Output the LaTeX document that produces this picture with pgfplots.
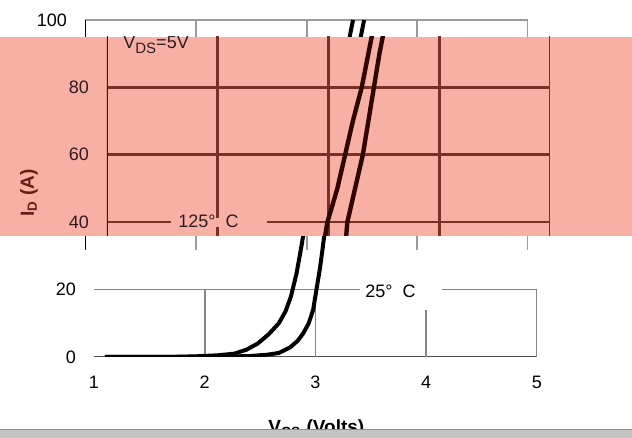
\documentclass[border=0pt]{standalone}
\usepackage{fontspec}
\setmainfont{Liberation Sans}
\usepackage{pgfplots}
\usepackage{pgfplotstable}
\pgfplotsset{compat=1.18}

\definecolor{band}{RGB}{249,176,164}
\definecolor{bandgrid}{RGB}{122,48,38}
\definecolor{bandaxis}{RGB}{70,18,12}
\definecolor{bandcurve}{RGB}{48,6,4}
\definecolor{bandtext}{RGB}{45,28,35}
\definecolor{ylab}{RGB}{105,28,20}
\definecolor{lightgrid}{RGB}{155,155,155}
\definecolor{midgrid}{RGB}{135,135,135}
\definecolor{zeroline}{RGB}{80,80,80}
\definecolor{barfill}{RGB}{196,196,196}
\definecolor{barline}{RGB}{140,140,140}

% I_D vs V_GS, 125 C
\pgfplotstableread{
v i
1.18 0
1.80 0.05
2.00 0.2
2.20 0.5
2.35 1.0
2.46 2.2
2.56 4.0
2.66 6.8
2.75 10
2.81 13.5
2.86 18
2.91 24.8
2.955 33
2.975 37
2.99 40
3.08 50
3.15 60
3.22 70
3.30 80
3.36 90
3.42 100
}\hot

% I_D vs V_GS, 25 C
\pgfplotstableread{
v i
1.18 0
2.20 0.05
2.50 0.3
2.65 0.7
2.75 1.2
2.85 2.8
2.92 4.8
2.97 7
3.02 10
3.06 14
3.09 20
3.12 26
3.145 32
3.16 36
3.17 40
3.24 50
3.31 60
3.36 70
3.41 80
3.46 90
3.52 100
}\cold

\pgfplotsset{
  strip/.style={
    scale only axis, width=221.5pt, height=168.5pt,
    xmin=1, xmax=5, ymin=0, ymax=100,
    axis line style={draw=none}, major tick length=0pt,
    xtick=\empty, ytick=\empty,
    /pgf/number format/assume math mode=true,
    tick label style={font=\fontsize{9}{10}\selectfont},
    yticklabel style={xshift=-5.5pt},
    xticklabel style={yshift=-5.8pt},
    anchor=south west,
  },
}

\begin{document}
\begin{tikzpicture}[x=0.5pt,y=0.5pt]
\useasboundingbox (0,0) rectangle (632,438);

% bottom part
\begin{scope}
\clip (0,0) rectangle (632,202);
\begin{axis}[strip, at={(47pt,40.5pt)}, xtick={1,2,3,4,5}, ytick={0,20}]
\draw[zeroline, line width=0.8pt] (axis cs:1,0) -- (axis cs:5,0);
\draw[midgrid, line width=0.9pt] (axis cs:1,20) -- (axis cs:5,20);
\pgfplotsinvokeforeach{2,3,4,5}{\draw[midgrid, line width=0.9pt] (axis cs:#1,0) -- (axis cs:#1,20);}
\end{axis}
\fill[white] (360,128) rectangle (442,168);
\node[anchor=base west, inner sep=0pt, font=\fontsize{9}{10}\selectfont] at (365,140) {25°\hspace{5pt}C};
\begin{axis}[strip, at={(42.5pt,40.5pt)}]
\addplot[black, line width=2pt] table {\hot};
\addplot[black, line width=2pt] table {\cold};
\end{axis}
\end{scope}

% short grid stubs just below the band
\begin{scope}
\clip (0,188) rectangle (632,202);
\begin{axis}[strip, at={(42.5pt,40.5pt)}]
\pgfplotsinvokeforeach{2,3,4,5}{\draw[lightgrid, line width=1pt] (axis cs:#1,0) -- (axis cs:#1,100);}
\draw[black, line width=1.4pt] (axis cs:1,0) -- (axis cs:1,100);
\end{axis}
\end{scope}

% salmon band
\fill[band] (0,202) rectangle (632,401);
\begin{scope}
\clip (0,202) rectangle (632,401);
\begin{axis}[strip, at={(53.5pt,40.5pt)}, ytick={40,60,80}, yticklabel style={text=bandtext}]
\pgfplotsinvokeforeach{40,60,80}{\draw[bandgrid, line width=1.3pt] (axis cs:1,#1) -- (axis cs:5,#1);}
\pgfplotsinvokeforeach{2,3,4,5}{\draw[bandgrid, line width=1.3pt] (axis cs:#1,0) -- (axis cs:#1,100);}
\draw[bandaxis, line width=1.4pt] (axis cs:1,0) -- (axis cs:1,100);
\addplot[bandcurve, line width=2.2pt] table {\hot};
\addplot[bandcurve, line width=2.2pt] table {\cold};
\end{axis}
\fill[band] (171,211) rectangle (267,220);
\node[anchor=base west, inner sep=0pt, text=bandtext, font=\fontsize{9}{10}\selectfont] at (178,210) {125°\hspace{5pt}C};
\node[anchor=base west, inner sep=0pt, text=bandtext, font=\fontsize{9}{10}\selectfont] at (123,389) {V\raisebox{-2.5pt}{\fontsize{7.5}{8}\selectfont DS}=5V};
\node[rotate=90, text=ylab, font=\fontsize{9.5}{11}\selectfont\bfseries] at (29,245) {I\textsubscript{D} (A)};
\end{scope}

% top part
\begin{scope}
\clip (0,401) rectangle (632,438);
\begin{axis}[strip, at={(42.5pt,40.5pt)}, ytick={100}]
\draw[lightgrid, line width=1.2pt] (axis cs:1,100) -- (axis cs:5,100);
\pgfplotsinvokeforeach{2,3,4,5}{\draw[lightgrid, line width=1pt] (axis cs:#1,0) -- (axis cs:#1,100);}
\draw[black, line width=1.4pt] (axis cs:1,0) -- (axis cs:1,100);
\addplot[black, line width=2pt] table {\hot};
\addplot[black, line width=2pt] table {\cold};
\end{axis}
\end{scope}

% x label, cut by the grey strip at the foot
\node[anchor=base west, inner sep=0pt, font=\fontsize{9.5}{11}\selectfont\bfseries] at (268,4.4) {V\textsubscript{GS} (Volts)};
\fill[barfill] (0,0) rectangle (632,8.5);
\draw[barline, line width=0.6pt] (0,8.5) -- (632,8.5);
\end{tikzpicture}
\end{document}
